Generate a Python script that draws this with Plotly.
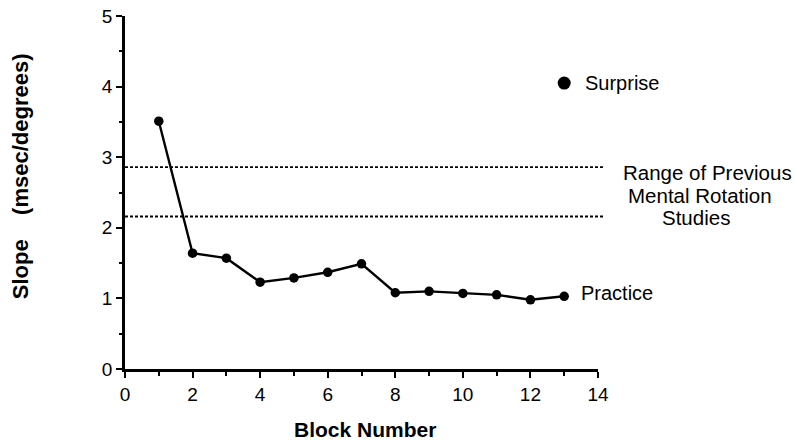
import plotly.graph_objects as go

blocks = [1, 2, 3, 4, 5, 6, 7, 8, 9, 10, 11, 12, 13]
practice_slope = [3.51, 1.64, 1.57, 1.23, 1.29, 1.37, 1.49, 1.08, 1.10, 1.07, 1.05, 0.98, 1.03]
surprise_block = [13]
surprise_slope = [4.05]
range_low = 2.16
range_high = 2.86
x_ticks = [0, 2, 4, 6, 8, 10, 12, 14]
y_ticks = [0, 1, 2, 3, 4, 5]

FONT = "Liberation Sans, Arial, Helvetica, sans-serif"

fig = go.Figure()
fig.add_trace(go.Scatter(
    x=blocks, y=practice_slope, mode="lines+markers",
    line=dict(color="black", width=2.4),
    marker=dict(color="black", size=9.5),
    cliponaxis=False, showlegend=False,
))
fig.add_trace(go.Scatter(
    x=surprise_block, y=surprise_slope, mode="markers",
    marker=dict(color="black", size=13),
    cliponaxis=False, showlegend=False,
))

for yv in (range_high, range_low):
    fig.add_shape(type="line", xref="paper", yref="y", x0=0, x1=1.013, y0=yv, y1=yv,
                  line=dict(color="black", width=1.8, dash="3px,2px"))

mid = (range_low + range_high) / 2
for txt, xp, ys in [("Range of Previous", 1.2325, 19), ("Mental Rotation", 1.216, -4), ("Studies", 1.207, -26)]:
    fig.add_annotation(text=txt, xref="paper", yref="y", x=xp, y=mid, yshift=ys,
                       xanchor="center", yanchor="middle", showarrow=False,
                       font=dict(family=FONT, size=20.5, color="black"))

fig.add_annotation(text="Practice", x=blocks[-1], y=practice_slope[-1], xshift=15, yshift=3,
                   xanchor="left", yanchor="middle", showarrow=False,
                   font=dict(family=FONT, size=20, color="black"))
fig.add_annotation(text="Surprise", x=surprise_block[0], y=surprise_slope[0], xshift=19,
                   xanchor="left", yanchor="middle", showarrow=False,
                   font=dict(family=FONT, size=20, color="black"))

fig.add_annotation(text="<b>Block Number</b>", xref="paper", yref="paper", x=0.507, y=-0.171,
                   xanchor="center", yanchor="middle", showarrow=False,
                   font=dict(family=FONT, size=21, color="black"))
fig.add_annotation(text="<b>Slope\u00a0\u00a0\u00a0\u00a0(msec/degrees)</b>", xref="paper", yref="paper",
                   x=-0.222, y=0.546, textangle=-90,
                   xanchor="center", yanchor="middle", showarrow=False,
                   font=dict(family=FONT, size=22, color="black"))

fig.update_layout(
    width=797, height=440,
    margin=dict(l=125, r=199, t=6, b=71),
    paper_bgcolor="white", plot_bgcolor="white",
    font=dict(family=FONT, color="black"),
    xaxis=dict(range=[0, 14], tickvals=x_ticks, showgrid=False, zeroline=False,
               showline=True, linecolor="black", linewidth=2.5,
               ticks="outside", ticklen=6, tickwidth=2, tickcolor="black",
               ticklabeloverflow="allow",
               minor=dict(dtick=1, ticks="outside", ticklen=4, tickwidth=1.5, tickcolor="black"),
               tickfont=dict(family=FONT, size=19, color="black")),
    yaxis=dict(range=[0, 5], tickvals=y_ticks, showgrid=False, zeroline=False,
               showline=True, linecolor="black", linewidth=2.5,
               ticks="outside", ticklen=6, tickwidth=2, tickcolor="black",
               ticklabeloverflow="allow",
               minor=dict(dtick=0.5, ticks="outside", ticklen=3, tickwidth=1.5, tickcolor="black"),
               tickfont=dict(family=FONT, size=19, color="black")),
)

fig.write_html("out.html", config={"displayModeBar": False},
               post_script="document.body.style.margin='0px';")
